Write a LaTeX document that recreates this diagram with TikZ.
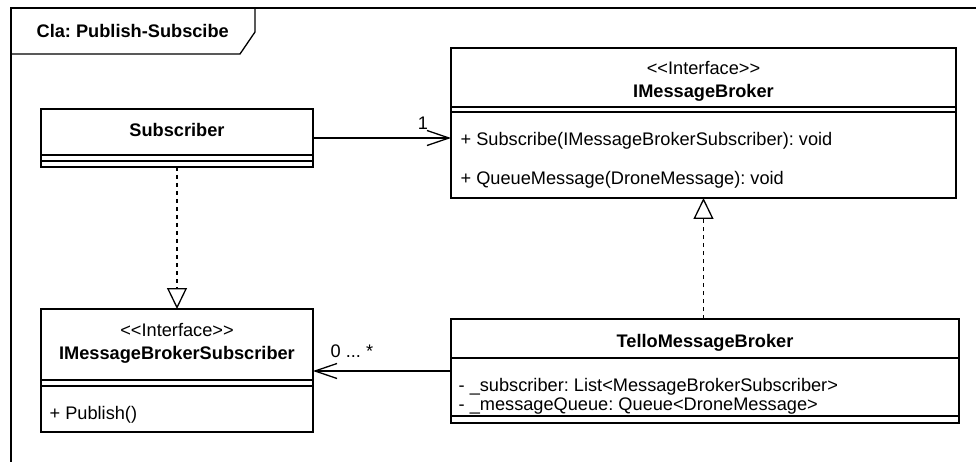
\documentclass[tikz,border=0pt]{standalone}
\usepackage{fontspec}
\setmainfont{Liberation Sans}
\usetikzlibrary{positioning}
\usetikzlibrary{arrows.meta}
\usetikzlibrary{calc}
\frenchspacing

\begin{document}
\begin{tikzpicture}[x=1pt, y=-1pt, line width=1.3pt,
    classbox/.style={draw, rectangle, inner sep=0pt, outer sep=0pt},
    txt/.style={inner sep=0pt, anchor=base, font=\fontsize{18.2}{22}\selectfont},
    boldtxt/.style={txt, font=\fontsize{18.2}{22}\selectfont\bfseries},
    member/.style={txt, anchor=base west},
    realize/.style={dash pattern=on 4pt off 4pt, -{Triangle[open, length=21pt, width=20pt]}},
    assoc/.style={-{Straight Barb[length=22pt, width=15pt]}}]
    \useasboundingbox (0,0) rectangle (976,462);

    % frame with its title tab
    \draw (11,462) -- (11,8) -- (976,8);
    \draw (11,54) -- (240,54) -- (255,32) -- (255,8);
    \node[boldtxt, anchor=base west] (title) at (36,37.7) {Cla: Publish-Subscibe};

    % Subscriber
    \node[classbox, minimum width=272pt, minimum height=58pt] (sub) at (177,138) {};
    \foreach \y in {155,161}
        {\draw (sub.west |- 0,\y) -- (sub.east |- 0,\y);}
    \node[boldtxt] (subname) at (177,137) {Subscriber};

    % IMessageBroker
    \node[classbox, minimum width=505pt, minimum height=150pt] (broker) at (703.5,123) {};
    \foreach \y in {107,112}
        {\draw (broker.west |- 0,\y) -- (broker.east |- 0,\y);}
    \node[txt] (brokerstereo) at (703.5,75) {<{}<Interface>{}>};
    \node[boldtxt] (brokername) at (703.5,97.7) {IMessageBroker};
    \node[member] (brokerop1) at (460,146) {+ Subscribe(IMessageBrokerSubscriber): void};
    \node[member] (brokerop2) at (460,184.3) {+ QueueMessage(DroneMessage): void};

    % IMessageBrokerSubscriber
    \node[classbox, minimum width=272pt, minimum height=123pt] (brsub) at (177,370.5) {};
    \foreach \y in {380,386}
        {\draw (brsub.west |- 0,\y) -- (brsub.east |- 0,\y);}
    \node[txt] (brsubstereo) at (177,336.7) {<{}<Interface>{}>};
    \node[boldtxt] (brsubname) at (177,359) {IMessageBrokerSubscriber};
    \node[member] (brsubop) at (49,419.3) {+ Publish()};

    % TelloMessageBroker
    \node[classbox, minimum width=508pt, minimum height=104pt] (tello) at (705,371) {};
    \foreach \y in {358,416}
        {\draw (tello.west |- 0,\y) -- (tello.east |- 0,\y);}
    \node[boldtxt] (telloname) at (705,347.7) {TelloMessageBroker};
    \node[member] (telloattr1) at (458,391) {- \_subscriber: List<MessageBrokerSubscriber>};
    \node[member] (telloattr2) at (458,410) {- \_messageQueue: Queue<DroneMessage>};

    % connectors
    \draw[assoc] (sub.east) -- (sub.east -| broker.west);
    \node[txt] (mult1) at (423,129.3) {1};
    \draw[assoc] (tello.west) -- (tello.west -| brsub.east);
    \node[txt, anchor=base west] (multmany) at (330,357.7) {0 ... *};
    \draw[realize] (sub.south) -- (brsub.north);
    \draw[realize] (broker.south |- tello.north) -- (broker.south);
\end{tikzpicture}
\end{document}
